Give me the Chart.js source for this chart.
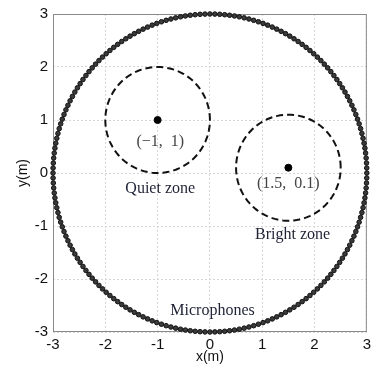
<!DOCTYPE html>
<html>
<head>
<meta charset="utf-8">
<script src="https://cdn.jsdelivr.net/npm/chart.js@4/dist/chart.umd.min.js"></script>
<style>
  html, body { margin: 0; padding: 0; background: #fff; }
  #wrap { width: 375px; height: 371px; }
</style>
</head>
<body>
<div id="wrap"><canvas id="chart"></canvas></div>
<script>
// microphone ring
var micCount = 200;
var micRadius = 3;

// quiet / bright zones
var zoneNames = ['Quiet zone', 'Bright zone'];
var zoneX = [-1, 1.5];
var zoneY = [1, 0.1];
var zoneRadius = [1, 1];

// text labels (data coords)
var labelText = ['(\u22121,  1)', 'Quiet zone', '(1.5,  0.1)', 'Bright zone', 'Microphones'];
var labelX = [-0.95, -0.95, 1.5, 1.58, 0.05];
var labelY = [0.58, -0.29, -0.2, -1.16, -2.6];

var tickValues = [-3, -2, -1, 0, 1, 2, 3];

function ringPoints(cx, cy, r, n) {
  var pts = [];
  for (var i = 0; i < n; i++) {
    var a = 2 * Math.PI * i / n;
    pts.push({ x: cx + r * Math.cos(a), y: cy + r * Math.sin(a) });
  }
  return pts;
}

var datasets = [];
for (var i = 0; i < zoneNames.length; i++) {
  var pts = ringPoints(zoneX[i], zoneY[i], zoneRadius[i], 120);
  pts.push(pts[0]);
  datasets.push({
    label: zoneNames[i],
    data: pts,
    showLine: true,
    borderColor: '#111',
    borderWidth: 2,
    borderDash: [7, 4],
    pointRadius: 0,
    tension: 0
  });
}
datasets.push({
  label: 'centres',
  data: zoneX.map(function (x, i) { return { x: x, y: zoneY[i] }; }),
  pointRadius: 3.5,
  backgroundColor: '#000',
  borderColor: '#000'
});
datasets.push({
  label: 'Microphones',
  data: ringPoints(0, 0, micRadius, micCount),
  pointRadius: 2.3,
  borderWidth: 1,
  backgroundColor: '#3a3a3a',
  borderColor: '#111',
  clip: false
});

var textPlugin = {
  id: 'texts',
  afterDatasetsDraw: function (chart) {
    var ctx = chart.ctx, xs = chart.scales.x, ys = chart.scales.y;
    ctx.save();
    ctx.textAlign = 'center';
    ctx.textBaseline = 'middle';
    for (var i = 0; i < labelText.length; i++) {
      ctx.font = '16px "Liberation Serif", serif';
      ctx.fillStyle = labelText[i].charAt(0) == '(' ? '#444' : '#1e2235';
      ctx.fillText(labelText[i], xs.getPixelForValue(labelX[i]), ys.getPixelForValue(labelY[i]));
    }
    ctx.restore();
  },
  beforeDatasetsDraw: function (chart) {
    var a = chart.chartArea, ctx = chart.ctx;
    ctx.save();
    ctx.strokeStyle = '#8a8a8a';
    ctx.lineWidth = 1;
    ctx.strokeRect(a.left + 0.5, a.top + 0.5, a.right - a.left - 1, a.bottom - a.top - 1);
    ctx.restore();
  }
};

var ctx = document.getElementById('chart').getContext('2d');
var chart = new Chart(ctx, {
  type: 'scatter',
  data: { datasets: datasets },
  plugins: [textPlugin],
  options: {
    responsive: true,
    maintainAspectRatio: false,
    animation: false,
    layout: { padding: { left: 0, right: 4, top: 13, bottom: 0 } },
    plugins: { legend: { display: false }, tooltip: { enabled: false } },
    scales: {
      x: {
        type: 'linear', min: -3, max: 3,
        afterBuildTicks: function (s) { s.ticks = tickValues.map(function (v) { return { value: v }; }); },
        afterFit: function (s) { s.height = 39; },
        grid: { color: '#d6d6d6', drawTicks: false },
        border: { display: false, dash: [2, 2] },
        ticks: { padding: 4, color: '#111', font: { family: '"Liberation Sans", Arial', size: 15 } },
        title: { display: true, text: 'x(m)', color: '#111', padding: { top: 0, bottom: 5 },
                 font: { family: '"Liberation Sans", Arial', size: 14 } }
      },
      y: {
        type: 'linear', min: -3, max: 3,
        afterBuildTicks: function (s) { s.ticks = tickValues.map(function (v) { return { value: v }; }); },
        afterFit: function (s) { s.width = 53; },
        grid: { color: '#d6d6d6', drawTicks: false },
        border: { display: false, dash: [2, 2] },
        ticks: { padding: 5, color: '#111', font: { family: '"Liberation Sans", Arial', size: 15 } },
        title: { display: true, text: 'y(m)', color: '#111', padding: { top: 15, bottom: 0 },
                 font: { family: '"Liberation Sans", Arial', size: 14 } }
      }
    }
  }
});
</script>
</body>
</html>
